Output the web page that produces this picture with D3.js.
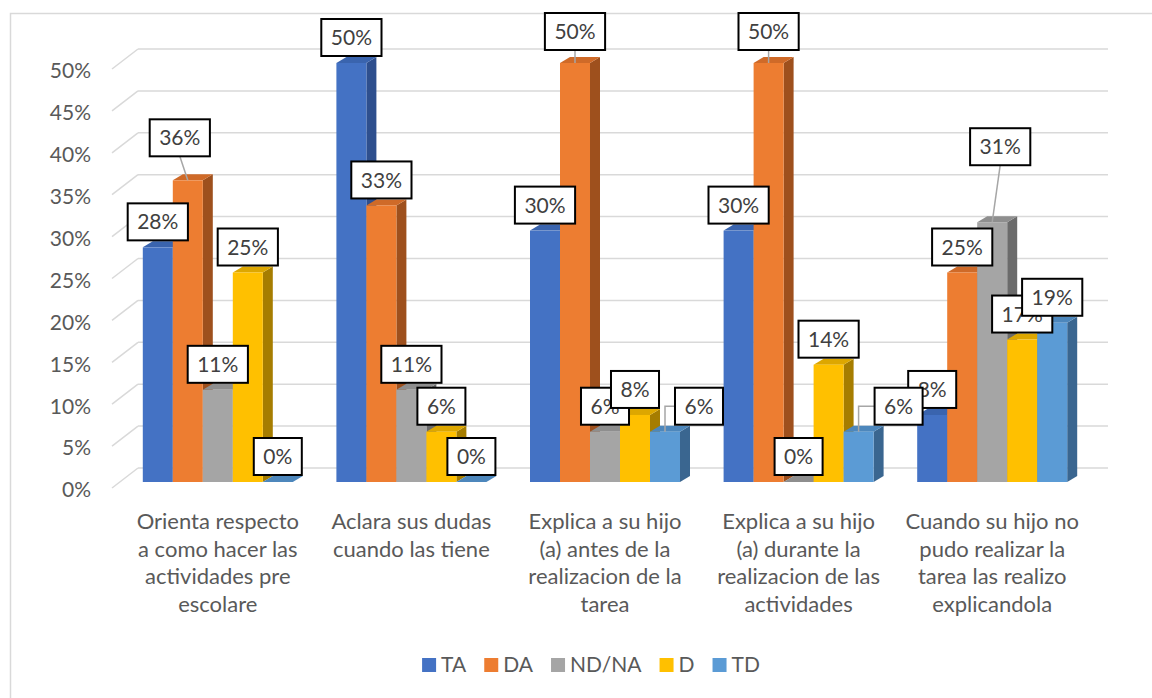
<!DOCTYPE html>
<html><head><meta charset="utf-8">
<script src="https://cdn.jsdelivr.net/npm/d3@7"></script>
<style>html,body{margin:0;padding:0;background:#fff;overflow:hidden}</style>
</head><body><svg id="c" width="1152" height="698"></svg>
<script>
const categories = [
  ["Orienta respecto","a como hacer las","actividades pre","escolare"],
  ["Aclara sus dudas","cuando las tiene"],
  ["Explica a su hijo","(a) antes de la","realizacion de la","tarea"],
  ["Explica a su hijo","(a) durante la","realizacion de las","actividades"],
  ["Cuando su hijo no","pudo realizar la","tarea las realizo","explicandola"]
];
const series = ["TA","DA","ND/NA","D","TD"];
const valTA   = [0.28, 0.50, 0.30, 0.30, 0.08];
const valDA   = [0.36, 0.33, 0.50, 0.50, 0.25];
const valND   = [0.11, 0.11, 0.06, 0.00, 0.31];
const valD    = [0.25, 0.06, 0.08, 0.14, 0.17];
const valTD   = [0.00, 0.00, 0.06, 0.06, 0.19];
const yTicks  = [0,0.05,0.10,0.15,0.20,0.25,0.30,0.35,0.40,0.45,0.50];

// styling / layout (not data)
const values = [valTA, valDA, valND, valD, valTD];
const front = ["#4472C4","#ED7D31","#A5A5A5","#FFC000","#5B9BD5"];
const topC  = ["#3A64AE","#CF6A28","#8E8E8E","#DDA700","#4D87BC"];
const sideC = ["#2E4F8E","#9E501D","#6B6B6B","#A67D00","#3A6690"];
// label nudges [series][category] -> [dx,dy]
const nudge = {"1-0":[-8,-17],"1-2":[0,-6],"1-3":[0,-6],"4-2":[34,0],"4-3":[40,0],"2-4":[8,-50]};

const svg = d3.select("#c");
const FONT = "Lato, 'Open Sans', sans-serif";
const txt = "#595959";
svg.append("rect").attr("x",10.5).attr("y",13.5).attr("width",1200).attr("height",800)
  .attr("fill","#fff").attr("stroke","#D9D9D9").attr("stroke-width",1.5);

const y = d3.scaleLinear().domain([0,0.5]).range([482,63]);
const cats = d3.range(categories.length);
const x0 = d3.scaleBand().domain(cats).range([121,1089]).paddingInner(0.2252).paddingOuter(0.1126);
const x1 = d3.scaleBand().domain(d3.range(series.length)).range([0,x0.bandwidth()]);
const DX = 10, DY = 6, WX = 26, WY = 20;

// gridlines (back wall) and front diagonals
const g = svg.append("g");
yTicks.forEach(t=>{
  const yb = y(t) - 14;
  g.append("line").attr("x1",138).attr("x2",1108).attr("y1",yb).attr("y2",yb)
    .attr("stroke","#D9D9D9").attr("stroke-width",1.5);
  g.append("line").attr("x1",112).attr("x2",138).attr("y1",yb+WY).attr("y2",yb)
    .attr("stroke","#D9D9D9").attr("stroke-width",1.5);
  g.append("text").attr("x",91).attr("y",y(t)+8).attr("dy","0.35em")
    .attr("text-anchor","end").attr("font-family",FONT).attr("font-size",21)
    .attr("fill",txt).text(d3.format(".0%")(t));
});

// bars
const bars = svg.append("g");
const base = y(0);
cats.forEach(ci=>{
  series.forEach((s,si)=>{
    const v = values[si][ci];
    const x = x0(ci) + x1(si), w = x1.bandwidth(), yt = y(v);
    bars.append("polygon").attr("points",[[x+w,yt],[x+w+DX,yt-DY],[x+w+DX,base-DY],[x+w,base]].join(" "))
      .attr("fill",sideC[si]);
    bars.append("polygon").attr("points",[[x,yt],[x+DX,yt-DY],[x+w+DX,yt-DY],[x+w,yt]].join(" "))
      .attr("fill",topC[si]);
    bars.append("rect").attr("x",x).attr("y",yt).attr("width",w).attr("height",base-yt)
      .attr("fill",front[si]);
  });
});

// labels (series-major order)
const lab = svg.append("g");
series.forEach((s,si)=>{
  cats.forEach(ci=>{
    const v = values[si][ci];
    const cx = x0(ci) + x1(si) + x1.bandwidth()/2, yt = y(v);
    const n = nudge[si+"-"+ci] || [0,0];
    const bcx = cx + n[0], bbot = yt - DY - 1 + n[1];
    const gg = lab.append("g");
    const t = gg.append("text").attr("font-family",FONT).attr("font-size",21)
      .attr("fill","#404040").attr("text-anchor","middle").text(d3.format(".0%")(v));
    const tw = t.node().getComputedTextLength();
    const bw = tw + 19, bh = 37;
    const bx = bcx - bw/2, by = bbot - bh;
    if (n[0] || n[1]) {
      let pts;
      if (Math.abs(n[0]) > bw/2) pts = [[bx, by+bh/2],[cx, by+bh/2],[cx, yt]];
      else pts = [[bcx, bbot],[cx, yt]];
      lab.insert("polyline", ":first-child").attr("points",pts.join(" ")).attr("fill","none")
        .attr("stroke","#A6A6A6").attr("stroke-width",1.5);
    }
    gg.insert("rect","text").attr("x",bx).attr("y",by).attr("width",bw).attr("height",bh)
      .attr("fill","#fff").attr("stroke","#000").attr("stroke-width",2);
    t.attr("x",bcx).attr("y",by+bh/2).attr("dy","0.36em");
  });
});

// category labels
cats.forEach(ci=>{
  const cx = x0(ci) + x0.bandwidth()/2;
  const t = svg.append("text").attr("font-family",FONT).attr("font-size",22).attr("fill",txt)
    .attr("text-anchor","middle");
  categories[ci].forEach((line,li)=>{
    t.append("tspan").attr("x",cx).attr("y",529 + li*27.7).text(line);
  });
});

// legend
const leg = svg.append("g");
let lx = 0;
series.forEach((s,si)=>{
  const it = leg.append("g").attr("transform",`translate(${lx},0)`);
  it.append("rect").attr("x",0).attr("y",-7).attr("width",14).attr("height",14).attr("fill",front[si]);
  const t = it.append("text").attr("x",19).attr("y",0).attr("dy","0.35em").attr("font-family",FONT)
    .attr("font-size",21).attr("fill",txt).text(s);
  lx += 19 + t.node().getComputedTextLength() + 18;
});
const legW = lx - 18;
leg.attr("transform",`translate(${591 - legW/2},665)`);
</script></body></html>
